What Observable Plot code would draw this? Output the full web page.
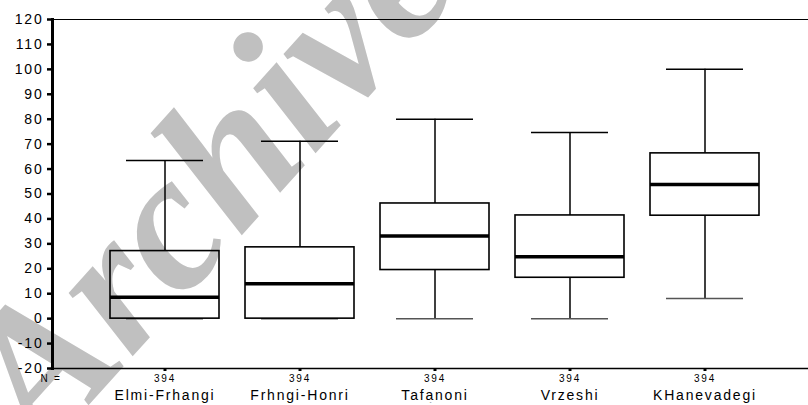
<!DOCTYPE html>
<html>
<head>
<meta charset="utf-8">
<script src="https://cdn.jsdelivr.net/npm/d3@7"></script>
<script src="https://cdn.jsdelivr.net/npm/@observablehq/plot@0.6"></script>
<style>
  html, body { margin: 0; padding: 0; background: #fff; }
  #chart svg { display: block; }
</style>
</head>
<body>
<div id="chart"></div>
<script>
const categories = ["Elmi-Frhangi", "Frhngi-Honri", "Tafanoni", "Vrzeshi", "KHanevadegi"];
const minVals    = [0, 0, 0, 0, 8.1];
const q1Vals     = [0, 0, 19.5, 16.4, 41.3];
const medianVals = [8.6, 14, 33.2, 24.8, 53.8];
const q3Vals     = [27.1, 28.6, 46.2, 41.4, 66.3];
const maxVals    = [63.4, 71.2, 80, 74.7, 100];
const nVals      = [394, 394, 394, 394, 394];
const yTicks     = [-20, -10, 0, 10, 20, 30, 40, 50, 60, 70, 80, 90, 100, 110, 120];
const watermark  = ["Archive"];

const rows = categories.map((c, i) => ({
  cat: c, min: minVals[i], q1: q1Vals[i], med: medianVals[i], q3: q3Vals[i], max: maxVals[i], n: nVals[i]
}));

const font = "'Liberation Sans', Arial, Helvetica, sans-serif";

const chart = Plot.plot({
  width: 808,
  height: 405,
  marginTop: 19,
  marginBottom: 37,
  marginLeft: 52,
  marginRight: 0,
  style: { fontFamily: font, background: "#fff", overflow: "hidden" },
  x: { type: "band", domain: categories, range: [52, 818], paddingInner: 0.19, paddingOuter: 0.42, axis: null },
  y: { domain: [-20, 120], axis: null },
  marks: [
    // watermark
    Plot.text(watermark, {
      frameAnchor: "bottom-left", dx: -10, dy: 88, rotate: -48,
      text: d => d, textAnchor: "start", lineAnchor: "bottom",
      fontSize: 196, fontFamily: "'Liberation Serif', 'Times New Roman', serif",
      fontWeight: "bold", fontStyle: "italic", fill: "#c0c0c0"
    }),
    // frame lines
    Plot.ruleY([120], { stroke: "#000", strokeWidth: 1 }),
    Plot.ruleY([-20], { stroke: "#000", strokeWidth: 1.5 }),
    Plot.frame({ anchor: "left", stroke: "#000", strokeWidth: 3 }),
    // y axis
    Plot.axisY({ ticks: yTicks, tickSize: 5, tickPadding: 4, strokeWidth: 2.5, fontSize: 14,
      tickFormat: d => String(d) }),
    // x axis tick marks
    Plot.axisX({ tickSize: 3, strokeWidth: 3, tickFormat: () => "", fontSize: 1 }),
    // whiskers
    Plot.ruleX(rows, { x: "cat", y1: "q3", y2: "max", stroke: "#000", strokeWidth: 1.5 }),
    Plot.ruleX(rows, { x: "cat", y1: "min", y2: "q1", stroke: "#000", strokeWidth: 1.5 }),
    Plot.tickY(rows, { x: "cat", y: "max", insetLeft: 16, insetRight: 16, stroke: "#000", strokeWidth: 1.5 }),
    Plot.tickY(rows, { x: "cat", y: "min", insetLeft: 16, insetRight: 16, stroke: "#555", strokeWidth: 1.5 }),
    // boxes
    Plot.barY(rows, { x: "cat", y1: "q1", y2: "q3", fill: "none", stroke: "#000", strokeWidth: 1.6 }),
    Plot.tickY(rows, { x: "cat", y: "med", stroke: "#000", strokeWidth: 3.5 }),
    // N labels
    Plot.text(["N ="], { frameAnchor: "bottom-left", dx: -12, dy: 13, textAnchor: "start", text: d => d, fontSize: 10, fill: "#000" }),
    Plot.text(rows, { x: "cat", frameAnchor: "bottom", dy: 13, text: d => String(d.n), fontSize: 10, fill: "#000" }),
    // category labels
    Plot.text(rows, { x: "cat", frameAnchor: "bottom", dy: 31, text: "cat", fontSize: 14, fill: "#000" })
  ]
});

d3.select(chart).selectAll("g[aria-label='text'] text, g[aria-label='y-axis tick label'] text")
  .filter(function() { return this.textContent !== "Archive"; })
  .style("letter-spacing", "1.8px");
document.getElementById("chart").appendChild(chart);
</script>
</body>
</html>
